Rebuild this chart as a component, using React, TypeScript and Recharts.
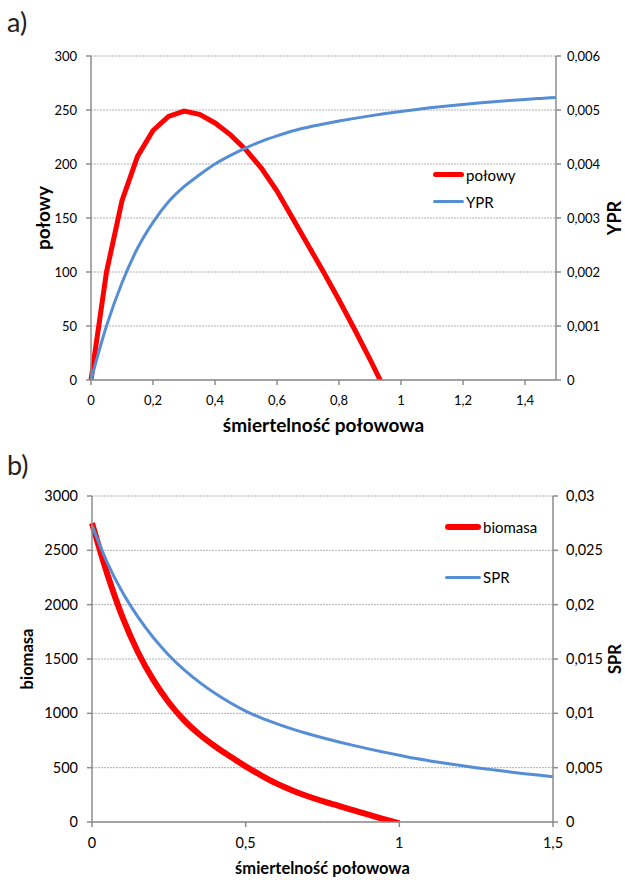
import React from 'react';
import { LineChart, Line, XAxis, YAxis, CartesianGrid, Legend, Label } from 'recharts';

// fishing mortality (x) shared by both panels
const mortality = [
  0, 0.05, 0.1, 0.15, 0.2, 0.25, 0.3, 0.35, 0.4, 0.45, 0.5, 0.55, 0.6, 0.65, 0.7, 0.75,
  0.8, 0.85, 0.9, 0.95, 1, 1.05, 1.1, 1.15, 1.2, 1.25, 1.3, 1.35, 1.4, 1.45, 1.5,
];

// panel a
const polowy = [
  0, 100, 166, 207, 231, 244, 249, 246, 238, 227, 213, 196, 175, 150, 125, 100,
  74, 47, 19, -10, null, null, null, null, null, null, null, null, null, null, null,
];
const ypr = [
  0, 0.001, 0.0018, 0.00244, 0.00292, 0.0033, 0.00358, 0.0038, 0.004, 0.00416, 0.0043,
  0.00442, 0.00452, 0.00461, 0.00468, 0.00474, 0.004795, 0.004845, 0.004891, 0.004934, 0.004974,
  0.005011, 0.005045, 0.005076, 0.005104, 0.00513, 0.005154, 0.005176, 0.005196, 0.005215, 0.005233,
];

// panel b
const biomasa = [
  2750, 2280, 1880, 1560, 1305, 1100, 935, 805, 697, 602, 512, 430, 355, 293, 239, 193,
  151, 109, 67, 27, -13, null, null, null, null, null, null, null, null, null, null,
];
const spr = [
  0.0273, 0.02385, 0.0211, 0.01885, 0.01695, 0.01535, 0.014, 0.01285, 0.01185, 0.01097, 0.0102,
  0.00958, 0.00905, 0.00857, 0.00814, 0.00775, 0.00739, 0.00705, 0.00673, 0.00643, 0.00614,
  0.00586, 0.00562, 0.0054, 0.00519, 0.005, 0.00482, 0.00464, 0.00447, 0.00432, 0.00417,
];

const xTicksA = [0, 0.2, 0.4, 0.6, 0.8, 1, 1.2, 1.4];
const leftTicksA = [0, 50, 100, 150, 200, 250, 300];
const rightTicksA = [0, 0.001, 0.002, 0.003, 0.004, 0.005, 0.006];
const xTicksB = [0, 0.5, 1, 1.5];
const leftTicksB = [0, 500, 1000, 1500, 2000, 2500, 3000];
const rightTicksB = [0, 0.005, 0.01, 0.015, 0.02, 0.025, 0.03];

const dataA = mortality.map((f, i) => ({ f, polowy: polowy[i], YPR: ypr[i] }));
const dataB = mortality.map((f, i) => ({ f, biomasa: biomasa[i], SPR: spr[i] }));

const FONT = 'Lato, "Open Sans", sans-serif';
const RED = '#ff0000';
const BLUE = '#558ed5';
const AXIS = '#8c8c8c';

const pl = (v: number) => String(v).replace('.', ',');

const vTitle = (text: string, dx: number, size: number) => (props: any) => {
  const vb = props.viewBox;
  const cx = vb.x + dx;
  const cy = vb.y + vb.height / 2;
  return (
    <text x={cx} y={cy} transform={`rotate(-90 ${cx} ${cy})`} textAnchor="middle"
      dominantBaseline="central" fontFamily={FONT} fontWeight={700} fontSize={size} fill="#000">
      {text}
    </text>
  );
};

const hTitle = (text: string, dy: number, size: number) => (props: any) => {
  const vb = props.viewBox;
  return (
    <text x={vb.x + vb.width / 2} y={vb.y + dy} textAnchor="middle" dominantBaseline="central"
      fontFamily={FONT} fontWeight={700} fontSize={size} fill="#000">
      {text}
    </text>
  );
};

type Item = { name: string; color: string; width: number };

const LegendBox = ({ items, lineLen, gap, size }: { items: Item[]; lineLen: number; gap: number; size: number }) => (
  <div style={{ fontFamily: FONT, fontSize: size, color: '#000' }}>
    {items.map((it) => (
      <div key={it.name} style={{ display: 'flex', alignItems: 'center', height: gap }}>
        <span style={{ display: 'inline-block', width: lineLen, height: it.width, background: it.color, borderRadius: it.width / 2, marginRight: 2 }} />
        <span>{it.name}</span>
      </div>
    ))}
  </div>
);

const PanelLabel = ({ text, top }: { text: string; top: number }) => (
  <div style={{ position: 'absolute', left: 7, top, fontFamily: FONT, fontSize: 27, fontWeight: 400, color: '#222', lineHeight: 1 }}>
    {text}
  </div>
);

export default function App() {
  return (
    <div style={{ position: 'absolute', left: 0, top: 0, width: 625, height: 880, background: '#fff' }}>
      <PanelLabel text="a)" top={8} />
      <PanelLabel text="b)" top={451} />

      <div style={{ position: 'absolute', left: 0, top: 0 }}>
        <LineChart width={625} height={440} data={dataA} margin={{ top: 56, right: 9, left: 41, bottom: 30 }}>
          <CartesianGrid yAxisId="left" vertical={false} stroke="#b0b0b0" strokeDasharray="2 1" />
          <XAxis dataKey="f" type="number" domain={[0, 1.5]} ticks={xTicksA} tickFormatter={pl}
            stroke={AXIS} strokeWidth={1.5} tickSize={5} tickMargin={11} height={30}
            tick={{ fill: '#000', fontSize: 13, fontFamily: FONT }}>
            <Label content={hTitle('śmiertelność połowowa', 44, 19)} />
          </XAxis>
          <YAxis yAxisId="left" domain={[0, 300]} ticks={leftTicksA} allowDataOverflow width={50}
            stroke={AXIS} strokeWidth={1.5} tickSize={5} tickMargin={9}
            tick={{ fill: '#000', fontSize: 13, fontFamily: FONT }}>
            <Label content={vTitle('połowy', 1, 19)} />
          </YAxis>
          <YAxis yAxisId="right" orientation="right" domain={[0, 0.006]} ticks={rightTicksA} tickFormatter={pl}
            width={60} stroke={AXIS} strokeWidth={1.5} tickSize={5} tickMargin={6}
            tick={{ fill: '#000', fontSize: 13, fontFamily: FONT, textAnchor: 'start' }}>
            <Label content={vTitle('YPR', 58, 18)} />
          </YAxis>
          <Line yAxisId="left" dataKey="polowy" stroke={RED} strokeWidth={5} dot={false} type="linear" isAnimationActive={false} />
          <Line yAxisId="right" dataKey="YPR" stroke={BLUE} strokeWidth={3} dot={false} type="monotone" isAnimationActive={false} />
          <Legend layout="horizontal" verticalAlign="middle" align="center"
            wrapperStyle={{ position: 'absolute', left: 433, top: 161, width: 120 }}
            content={() => (
              <LegendBox lineLen={31} gap={27} size={15}
                items={[{ name: 'połowy', color: RED, width: 5 }, { name: 'YPR', color: BLUE, width: 3 }]} />
            )} />
        </LineChart>
      </div>

      <div style={{ position: 'absolute', left: 0, top: 440 }}>
        <LineChart width={625} height={440} data={dataB} margin={{ top: 56, right: 12, left: 42, bottom: 28 }}>
          <CartesianGrid yAxisId="left" vertical={false} stroke="#b0b0b0" strokeDasharray="2 1" />
          <XAxis dataKey="f" type="number" domain={[0, 1.5]} ticks={xTicksB} tickFormatter={pl}
            stroke={AXIS} strokeWidth={1.5} tickSize={5} tickMargin={11} height={30}
            tick={{ fill: '#000', fontSize: 14.5, fontFamily: FONT }}>
            <Label content={hTitle('śmiertelność połowowa', 46, 16.5)} />
          </XAxis>
          <YAxis yAxisId="left" domain={[0, 3000]} ticks={leftTicksB} allowDataOverflow width={50}
            stroke={AXIS} strokeWidth={1.5} tickSize={5} tickMargin={9}
            tick={{ fill: '#000', fontSize: 14.5, fontFamily: FONT }}>
            <Label content={vTitle('biomasa', -15, 16.5)} />
          </YAxis>
          <YAxis yAxisId="right" orientation="right" domain={[0, 0.03]} ticks={rightTicksB} tickFormatter={pl}
            width={60} stroke={AXIS} strokeWidth={1.5} tickSize={5} tickMargin={8}
            tick={{ fill: '#000', fontSize: 14.5, fontFamily: FONT, textAnchor: 'start' }}>
            <Label content={vTitle('SPR', 62, 16.5)} />
          </YAxis>
          <Line yAxisId="left" dataKey="biomasa" stroke={RED} strokeWidth={6} dot={false} type="monotone" isAnimationActive={false} />
          <Line yAxisId="right" dataKey="SPR" stroke={BLUE} strokeWidth={3} dot={false} type="monotone" isAnimationActive={false} />
          <Legend layout="horizontal" verticalAlign="middle" align="center"
            wrapperStyle={{ position: 'absolute', left: 445, top: 62, width: 120 }}
            content={() => (
              <LegendBox lineLen={36} gap={50} size={15}
                items={[{ name: 'biomasa', color: RED, width: 6 }, { name: 'SPR', color: BLUE, width: 3 }]} />
            )} />
        </LineChart>
      </div>
    </div>
  );
}
